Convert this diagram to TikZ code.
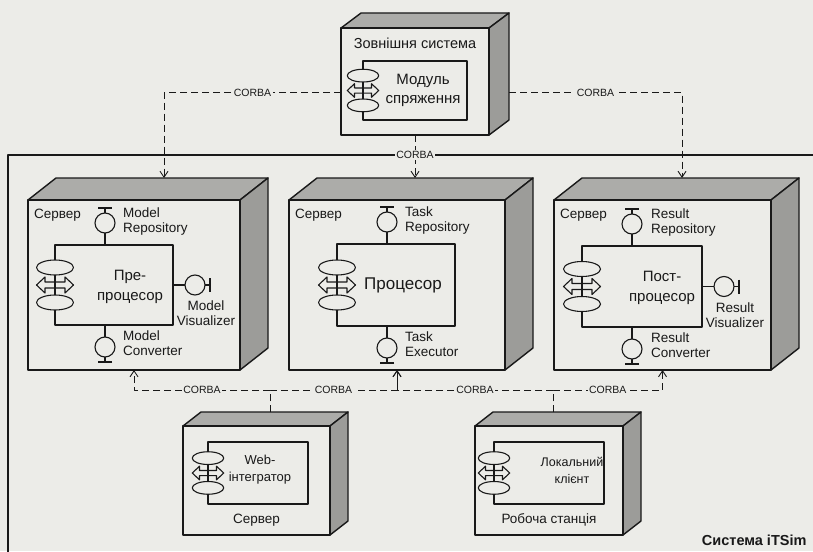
\documentclass[tikz,border=0pt]{standalone}
\usepackage{fontspec}
\setmainfont{Liberation Sans}
\usetikzlibrary{arrows.meta,positioning,calc}
\definecolor{paper}{RGB}{236,236,232}
\definecolor{facetop}{RGB}{172,172,169}
\definecolor{faceside}{RGB}{156,156,153}
\definecolor{ink}{RGB}{25,25,25}

\begin{document}
\begin{tikzpicture}[x=1pt,y=-1pt,line join=round,
    ink line/.style={draw=ink,line width=1.4pt},
    nodebox/.style={draw=ink,line width=1.4pt,fill=paper,inner sep=0pt,outer sep=0pt},
    lbl/.style={font=\fontsize{13.5}{15}\selectfont,text=ink,inner sep=1pt,align=left},
    cname/.style={text=ink,inner sep=1pt,align=center},
    corba/.style={font=\fontsize{10.5}{12}\selectfont,text=ink,inner sep=1.5pt,fill=paper},
    dep/.style={draw=ink,line width=0.9pt,dash pattern=on 7pt off 4pt,-{Straight Barb[length=6pt,width=8pt]}}]
    \useasboundingbox (0,0) rectangle (813,551);
    \clip (0,0) rectangle (813,551);
    \fill[paper] (0,0) rectangle (813,551);
    \draw[ink line] (8,600) |- (860,155);
    \node[font=\bfseries\fontsize{14.5}{16}\selectfont,text=ink,anchor=east] (sysname) at (810,540) {Система iTSim};
    \foreach \n/\xa/\ya/\xb/\yb/\dx/\dy in {ext/341/28/489/135/20/15,pre/28/200/240/370/28/22,prc/289/200/505/370/28/22,post/554/200/771/370/28/22,web/183/426/330/535/18/14,loc/475/426/623/535/18/14}{
      \filldraw[ink line,fill=facetop] (\xa,\ya) -- ++(\dx,-\dy) -- ({\xb+\dx},{\ya-\dy}) -- (\xb,\ya) -- cycle;
      \filldraw[ink line,fill=faceside] (\xb,\ya) -- ++(\dx,-\dy) -- ({\xb+\dx},{\yb-\dy}) -- (\xb,\yb) -- cycle;
      \node[nodebox,minimum width={(\xb-\xa)*1pt},minimum height={(\yb-\ya)*1pt}] (\n) at ({(\xa+\xb)/2},{(\ya+\yb)/2}) {};
    }
    \foreach \c/\cx/\cy/\w/\h/\s in {modcomp/415/90.5/104/59/0.85,precomp/114/285/118/80/1,prccomp/396/285/118/82/1,postcomp/642/286.5/120/81/1,webcomp/258/473/100/62/0.85,loccomp/549/473/110/62/0.85}{
      \node[nodebox,line width=1.2pt,minimum width=\w pt,minimum height=\h pt] (\c) at (\cx,\cy) {};
      \begin{scope}[shift={(\c.west)},scale=\s]
        \filldraw[ink line,line width=1.1pt,fill=paper] (0,-17.5) ellipse [x radius=18.5pt,y radius=7.5pt];
        \filldraw[ink line,line width=1.1pt,fill=paper] (0,17.5) ellipse [x radius=18.5pt,y radius=7.5pt];
        \draw[ink line,line width=1.1pt] (-18.5,0) -- (-10,-8) -- (-10,-3) -- (10,-3) -- (10,-8) -- (18.5,0) -- (10,8) -- (10,3) -- (-10,3) -- (-10,8) -- cycle;
      \end{scope}
    }
    \foreach \a/\r/\o in {precomp.north/90/-9,precomp.south/-90/-9,precomp.east/0/0,prccomp.north/90/-9,prccomp.south/-90/-9,postcomp.north/90/-10,postcomp.south/-90/-10,postcomp.east/0/0}{
      \begin{scope}[shift={([xshift=\o pt]\a)},rotate=\r]
        \draw[ink line,line width=1.1pt] (0,0) -- (12,0) (32,0) -- (37,0) (37,-7) -- (37,7);
        \draw[ink line,line width=1.1pt] (22,0) circle [radius=10pt];
      \end{scope}
    }
    \node[lbl,font=\fontsize{14.5}{16}\selectfont] (ext-name) at ([yshift=-15pt]ext.north) {Зовнішня система};
    \foreach \n in {pre,prc,post}
      \node[lbl,anchor=west] (\n-name) at ([xshift=5pt,yshift=-15pt]\n.north west) {Сервер};
    \node[lbl] (web-name) at ([yshift=15pt]web.south) {Сервер};
    \node[lbl] (loc-name) at ([yshift=15pt]loc.south) {Робоча станція};
    \node[cname,font=\fontsize{15}{19}\selectfont] (modtext) at ([xshift=8pt]modcomp.center) {Модуль\\спряження};
    \node[cname,font=\fontsize{15}{20}\selectfont] (pretext) at ([xshift=16pt,yshift=-2pt]precomp.center) {Пре-\\процесор};
    \node[cname,font=\fontsize{17}{20}\selectfont] (prctext) at ([xshift=7pt]prccomp.center) {Процесор};
    \node[cname,font=\fontsize{15}{20}\selectfont] (posttext) at ([xshift=20pt,yshift=-1pt]postcomp.center) {Пост-\\процесор};
    \node[cname,font=\fontsize{13}{17}\selectfont] (webtext) at ([xshift=2pt,yshift=3pt]webcomp.center) {Web-\\інтегратор};
    \node[cname,font=\fontsize{12.5}{17}\selectfont] (loctext) at ([xshift=23pt,yshift=3pt]loccomp.center) {Локальний\\клієнт};
    \foreach \c/\t/\b in {pre/{Model\\Repository}/{Model\\Converter},prc/{Task\\Repository}/{Task\\Executor},post/{Result\\Repository}/{Result\\Converter}}{
      \node[lbl,anchor=west] (\c-repo) at ([xshift=8pt,yshift=23pt]\c comp.north) {\t};
      \node[lbl,anchor=west] (\c-exec) at ([xshift=8pt,yshift=-18.5pt]\c comp.south) {\b};
    }
    \node[lbl,align=center] (pre-vis) at ([xshift=33pt,yshift=-28.5pt]precomp.east) {Model\\Visualizer};
    \node[lbl,align=center] (post-vis) at ([xshift=33pt,yshift=-28.5pt]postcomp.east) {Result\\Visualizer};
    \coordinate (pretop) at (164,178);
    \coordinate (prctop) at (415,178);
    \coordinate (posttop) at (682,178);
    \coordinate (webtop) at (270,412);
    \coordinate (loctop) at (553,412);
    \draw[dep] ([yshift=-11pt]ext.west) -| node[corba,pos=0.25] (c1) {CORBA} (pretop);
    \draw[dep] ([xshift=20pt,yshift=-11pt]ext.east) -| node[corba,pos=0.25] (c2) {CORBA} (posttop);
    \draw[dep] (ext.south) -- node[corba,pos=0.47] (c3) {CORBA} (prctop);
    \draw[dep] (webtop) -- ++(0,-22) -| node[corba,pos=0.25] (c4) {CORBA} (pre.south);
    \draw[dep] (webtop) -- ++(0,-22) -| node[corba,pos=0.25] (c5) {CORBA} (prc.south);
    \draw[dep] (loctop) -- ++(0,-22) -| node[corba,pos=0.25] (c6) {CORBA} (prc.south);
    \draw[dep] (loctop) -- ++(0,-22) -| node[corba,pos=0.25] (c7) {CORBA} (post.south);
  \end{tikzpicture}
\end{document}
